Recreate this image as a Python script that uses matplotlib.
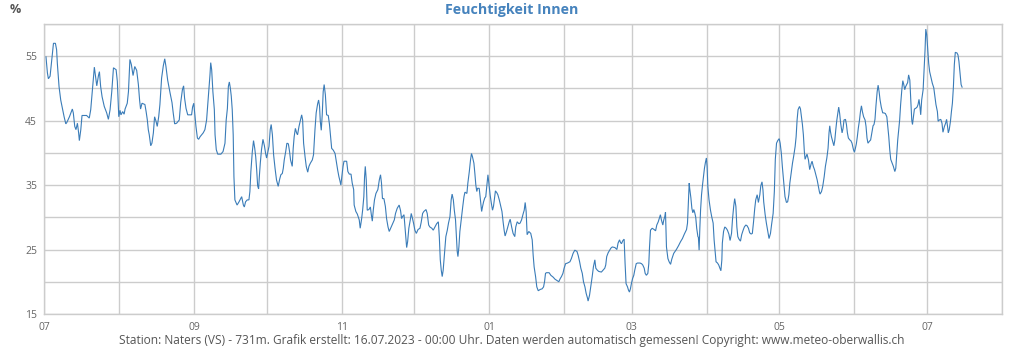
import numpy as np
import matplotlib
matplotlib.use("Agg")
import matplotlib.pyplot as plt
import matplotlib.dates as mdates

plt.rcParams['font.family'] = ['Open Sans', 'DejaVu Sans']

title = "Feuchtigkeit Innen"
unit = "%"
footer = ("Station: Naters (VS) - 731m. Grafik erstellt: 16.07.2023 - 00:00 Uhr. "
          "Daten werden automatisch gemessen! Copyright: www.meteo-oberwallis.ch")

start = np.datetime64("2022-07-01T00:00")
end = np.datetime64("2023-08-01T00:00")

# days since 1 July 2022
days = [
    0.8, 1.4, 1.8, 2.5, 3.2, 3.9, 4.7, 5.2, 5.5, 6.2, 6.9, 7.7, 8.3, 9.0, 9.4, 10.5,
    11.7, 12.1, 12.7, 13.2, 13.8, 14.3, 14.6, 15.2, 15.7, 17.6, 18.7, 19.3, 20.0, 20.8,
    21.2, 21.8, 22.5, 22.9, 23.4, 24.0, 24.9, 25.9, 26.6, 27.3, 28.0, 28.7, 29.8, 30.3,
    30.7, 30.9, 31.4, 31.8, 32.5, 33.1, 33.5, 34.4, 34.9, 35.5, 36.1, 36.8, 37.5, 38.3,
    39.0, 39.5, 39.9, 40.5, 41.7, 42.2, 42.7, 43.1, 43.5, 44.1, 44.6, 45.2, 45.7, 46.3,
    46.8, 47.4, 47.9, 48.6, 49.3, 49.9, 50.4, 51.1, 52.1, 52.9, 53.4, 54.0, 54.8, 55.9,
    56.5, 57.2, 57.7, 58.1, 58.7, 59.4, 61.0, 61.4, 61.9, 62.4, 62.8, 63.4, 63.9,
    64.5, 65.8, 66.5, 67.2, 67.9, 68.6, 68.9, 69.3, 69.8, 70.4, 70.7, 71.2, 71.8, 73.1,
    74.0, 74.8, 75.3, 75.8, 76.2, 76.6, 77.0, 77.4, 77.8, 78.2, 78.5, 78.9, 79.8, 80.6,
    81.7, 82.4, 82.8, 83.3, 84.0, 84.7, 85.1, 85.5, 86.1, 86.6, 87.1, 87.5, 87.9, 88.3,
    88.7, 89.0, 89.4, 89.9, 90.5, 91.1, 91.6, 92.0, 92.4, 93.0, 93.5, 93.9, 94.4, 94.9,
    95.5, 96.1, 96.8, 97.4, 97.9, 98.5, 98.9, 99.3, 99.9, 100.4, 101.0, 101.5, 101.9,
    102.3, 102.6, 103.0, 103.4, 103.9, 104.4, 104.8, 105.4, 105.9, 106.5, 106.9, 107.3,
    107.9, 108.4, 109.0, 109.5, 110.1, 110.9, 111.4, 112.0, 112.5, 113.1, 113.5, 113.9,
    114.2, 114.6, 115.0, 115.4, 115.8, 116.3, 116.8, 117.5, 118.0, 118.5, 118.9, 119.6,
    120.3, 120.8, 121.4, 121.9, 122.3, 122.7, 123.1, 123.6, 124.0, 125.1, 125.6, 126.2,
    126.9, 127.4, 128.0, 128.2,
    128.9, 129.5, 130.3, 130.7, 131.3, 131.7, 132.2, 132.5, 132.8, 133.2, 133.6, 134.3,
    134.9, 135.3, 135.7, 136.1, 136.6, 137.2, 138.0, 138.6, 139.1, 139.5, 139.9, 140.5,
    141.1, 141.6, 142.2, 142.7, 143.3, 144.1, 144.8, 145.3, 146.0, 146.8, 147.4, 147.8,
    148.2, 148.8, 149.2, 149.6, 149.9, 150.3, 150.8, 151.4, 151.8, 152.2, 152.8, 153.3,
    153.9, 154.6, 155.4, 155.9, 156.5, 157.0, 157.9, 158.4, 159.0, 159.5, 160.3, 160.9,
    161.6, 162.3, 163.0, 163.4, 163.8, 164.2, 164.6, 165.0, 165.6, 166.1, 166.7, 167.2,
    167.8, 168.3, 168.7, 169.2, 169.6, 170.1, 170.4, 170.8, 171.1, 171.5, 171.9, 172.6,
    173.1, 173.6, 174.0, 174.8, 175.2, 175.8, 176.3, 176.7, 177.1, 177.7, 178.1, 178.5,
    178.9, 179.2, 179.9, 180.4, 180.9, 181.3, 181.7, 182.2, 182.6, 183.1, 183.5, 184.0,
    184.4, 184.9, 185.4, 185.8, 186.2, 186.6, 187.2, 187.6, 188.2, 188.7, 189.3, 189.8,
    190.2, 190.6, 191.2, 191.7, 192.3,
    192.7, 193.3, 193.9, 194.6, 195.0, 195.6, 196.3, 196.8, 197.4, 198.1, 198.5, 198.9,
    199.3, 199.7, 200.4, 201.2, 201.8, 202.2, 202.6, 203.2, 203.7, 204.3, 205.1, 205.9,
    206.5, 206.9, 207.3, 207.7, 208.8, 209.5, 210.5, 211.2, 212.0, 212.8, 213.4, 213.9,
    214.5, 215.0, 215.6, 216.4, 217.4, 218.0, 218.7, 219.4, 220.3, 220.8, 221.4, 221.9,
    222.5, 223.0, 223.6, 224.1, 224.7, 224.9, 225.5, 226.0, 226.6, 227.1, 227.7, 228.1,
    228.7, 229.3, 230.4, 231.3, 231.8, 232.2, 232.6, 233.2, 233.8, 234.3, 234.9, 236.0,
    236.8, 237.3, 237.9, 238.3, 238.7, 239.3, 239.8, 240.2, 240.6, 241.2, 241.6, 242.0,
    242.4, 242.8, 243.3, 243.8, 244.2, 244.8, 245.3, 246.4, 247.0, 247.5, 248.1, 248.5,
    249.0, 249.6, 250.0, 250.3, 250.7, 251.4, 252.2, 252.8, 253.3, 253.9, 254.3, 254.8,
    255.2, 255.8, 256.2, 256.6,
    256.9, 257.3, 257.9, 258.4, 259.0, 259.5, 260.3, 261.4, 262.3, 263.1, 263.9, 264.7,
    265.6, 266.0, 266.3, 266.7, 266.9, 267.4, 267.8, 268.2, 268.6, 269.0, 269.4, 269.8,
    270.3, 270.5, 270.8, 271.1, 271.4, 271.8, 272.2, 272.6, 273.0, 273.4, 273.8, 274.1,
    274.4, 274.9, 275.5, 276.0, 276.6, 277.0, 277.4, 277.8, 278.4, 278.9, 279.3, 279.8,
    280.2, 280.4, 280.9, 281.4, 282.0, 282.5, 283.1, 283.6, 284.2, 284.6, 285.1, 285.5,
    286.0, 286.4, 286.8, 287.3, 287.9, 288.4, 289.0, 289.5, 290.1, 290.6, 291.2, 291.7,
    292.3, 292.8, 293.3, 293.8, 294.2, 294.8, 295.3, 295.9, 296.3, 296.8, 297.2, 297.5,
    298.1, 298.6, 299.2, 299.7, 300.3, 300.8, 301.4, 301.9, 302.3, 302.8, 303.3, 303.9,
    304.3, 304.8, 305.2, 305.8, 306.3, 306.9, 307.4, 307.9, 308.3, 308.8, 309.4, 309.9,
    310.5, 310.9, 311.3, 311.7, 312.3, 312.7, 313.1, 313.5, 313.9, 314.3, 314.6, 315.0,
    315.4, 316.0, 316.5, 317.1, 317.5, 318.0, 318.5, 319.0, 319.6, 320.1, 320.5,
    320.8, 321.4, 321.9, 322.5, 323.0, 323.6, 324.1, 324.5, 324.8, 325.1, 325.5, 326.0,
    326.5, 326.9, 327.3, 327.7, 328.1, 328.5, 328.9, 329.3, 329.9, 330.3, 330.7, 331.3,
    331.7, 332.1, 332.5, 333.1, 333.5, 334.0, 334.6, 335.0, 335.4, 335.8, 336.2, 336.6,
    337.1, 337.5, 337.9, 338.3, 338.8, 339.4, 339.8, 340.2, 340.6, 341.2, 341.7, 342.3,
    342.7, 343.1, 343.5, 343.9, 344.4, 344.8, 345.2, 345.6, 346.1, 346.7, 347.2, 347.8,
    348.4, 348.8, 349.2, 349.6, 350.0, 350.6, 351.1, 351.7, 352.1, 352.5, 352.9, 353.3,
    353.7, 354.1, 354.6, 355.0, 355.4, 355.8, 356.2, 356.6, 357.0, 357.4, 357.9, 358.3,
    358.7, 359.0, 359.4, 359.8, 360.3, 360.9, 361.3, 361.7, 362.1, 362.4, 362.8, 363.4,
    363.8, 364.2, 364.5, 364.9, 365.3, 365.7, 366.1, 366.7, 367.2, 367.8, 368.2, 368.7,
    369.3, 369.6, 370.1, 370.7, 371.2, 371.6, 372.2, 372.7, 373.1, 373.6, 373.8, 374.2,
    374.7, 375.1, 375.5, 375.9, 376.3, 376.7, 377.4, 377.8, 378.2, 378.7, 379.1, 379.5,
]

humidity = [
    54.9, 52.4, 51.5, 51.9, 54.5, 57.0, 57.0, 56.0, 53.9, 50.3, 48.2, 46.7, 45.6, 44.5, 44.7, 45.6,
    46.8, 46.2, 44.1, 43.6, 44.6, 43.1, 41.9, 43.6, 45.8, 45.8, 45.4, 46.7, 49.8, 53.3,
    52.1, 50.4, 52.0, 52.6, 50.3, 48.7, 47.2, 46.2, 45.2, 46.7, 49.5, 53.2, 52.9, 51.1,
    47.3, 45.6, 46.6, 45.9, 46.4, 46.0, 46.8, 47.7, 49.5, 54.5, 53.7, 52.0, 53.4, 52.8,
    50.6, 48.2, 46.8, 47.7, 47.5, 46.4, 45.1, 43.6, 42.8, 41.1, 41.5, 43.1, 45.6, 44.9,
    44.1, 45.6, 47.5, 51.6, 53.5, 54.6, 53.4, 51.3, 49.3, 47.8, 46.2, 44.5, 44.6, 45.1,
    47.8, 49.8, 50.4, 48.5, 46.9, 45.9, 45.9, 47.1, 47.7, 45.6, 44.1, 42.3, 42.1,
    42.5, 43.1, 43.6, 45.1, 48.5, 52.1, 54.0, 52.9, 49.5, 46.7, 42.8, 40.5, 39.8, 39.8,
    40.2, 41.5, 45.1, 46.9, 50.3, 51.0, 50.1, 48.8, 46.7, 42.8, 36.3, 32.7, 31.9, 32.4,
    33.2, 31.9, 31.6, 32.4, 32.7, 32.7, 34.0, 37.1, 40.2, 41.9, 40.7, 39.4, 37.4, 34.9,
    34.4, 36.3, 38.4, 40.5, 42.1, 41.1, 39.9, 39.2, 39.9, 41.0, 43.6, 44.4, 42.8, 39.7,
    37.6, 35.8, 34.8, 35.9, 36.6, 36.8, 37.6, 38.9, 40.2, 41.5, 41.4, 40.2, 38.9,
    38.3, 37.9, 40.7, 42.5, 43.8, 43.1, 42.8, 44.1, 44.9, 45.9, 45.1, 41.5,
    39.4, 37.9, 37.0, 37.9, 38.4, 38.9, 39.7, 43.6, 46.2, 47.6, 48.2, 47.2,
    44.9, 43.5, 45.9, 49.5, 50.6, 49.0, 45.9, 45.8, 44.4, 42.3, 40.7, 40.4,
    39.9, 38.7, 37.3, 36.3, 35.7, 35.0, 36.3, 37.9, 38.7, 38.7, 37.1, 36.7,
    36.7, 35.3, 34.3, 31.9,
    30.9, 30.5, 29.6, 28.3, 29.8, 31.1, 33.2, 36.3, 37.9, 35.8, 31.1, 31.2,
    31.6, 30.4, 29.4, 31.1, 32.7, 33.7, 34.3, 35.8, 36.6, 35.3, 32.9, 32.9,
    31.7, 29.8, 28.5, 27.8, 28.3, 29.0, 29.6, 30.6, 31.4, 31.9, 31.0, 29.8,
    30.1, 30.4, 28.5, 26.5, 25.3, 26.2, 28.3, 29.6, 30.6, 30.0, 29.0, 28.0,
    27.5, 28.1, 28.3, 29.2, 30.6, 30.9, 31.2, 30.6, 28.8, 28.5, 28.3, 28.0,
    28.5, 29.0, 29.3, 27.0, 23.4, 21.8, 20.8, 21.8, 24.7, 27.0, 28.0, 29.1,
    30.1, 32.7, 33.6, 32.7, 31.1, 29.6, 27.5, 24.7, 23.9, 25.4, 27.8, 30.1,
    31.7, 33.2, 33.9, 33.7, 35.3, 37.1, 38.9, 39.9, 39.4, 38.4, 36.8, 35.0,
    34.0, 34.5, 34.5, 32.7, 30.9, 31.7, 32.4, 33.0, 33.2, 35.0, 36.6, 34.8,
    33.5, 32.2, 31.1, 31.7, 32.9, 34.1, 33.8, 33.5, 32.7, 31.9, 30.9, 29.2,
    28.0, 27.1, 27.8, 28.5, 29.3,
    29.7, 28.5, 27.5, 27.0, 28.5, 29.3, 29.0, 29.1, 29.6, 30.6, 31.1, 32.3,
    30.9, 27.3, 27.8, 27.5, 26.5, 24.1, 22.3, 20.8, 19.2, 18.6, 18.8, 18.9,
    19.2, 20.0, 21.3, 21.4, 21.4, 21.0, 20.7, 20.4, 20.2, 20.0, 20.5, 20.8,
    21.3, 22.1, 22.8, 22.9, 23.1, 23.6, 24.4, 24.9, 24.7, 24.1, 23.1, 22.1,
    21.3, 20.0, 19.2, 18.2, 17.4, 17.0, 17.9, 19.2, 20.8, 22.3, 23.4, 22.1,
    21.8, 21.6, 21.5, 21.9, 22.1, 22.6, 23.9, 24.5, 24.9, 25.2, 25.4, 25.3,
    25.0, 26.0, 26.5, 26.1, 25.9, 26.4, 26.6, 22.8, 19.7, 19.2, 18.7, 18.4,
    18.9, 19.7, 20.5, 21.0, 21.8, 22.8, 22.9, 22.9, 22.8, 22.6, 22.1, 21.3,
    21.0, 21.3, 22.8, 25.4, 28.0, 28.3, 28.1, 27.9, 28.8, 29.3, 29.8, 30.4,
    29.6, 28.8, 29.6, 30.1,
    30.8, 25.4, 23.6, 23.1, 22.7, 23.5, 24.4, 25.0, 25.6, 26.2, 26.7, 27.4,
    28.1, 29.1, 31.9, 35.3, 34.5, 33.0, 31.4, 30.7, 31.2, 30.7, 30.0, 28.3,
    27.0, 26.9, 24.9, 28.3, 31.1, 33.5, 35.0, 36.3, 37.6, 38.5, 39.2, 37.9,
    34.8, 32.7, 31.1, 30.1, 29.1, 26.5, 24.7, 23.1, 22.9, 22.6, 22.2, 21.7,
    23.4, 26.0, 27.8, 28.5, 28.3, 28.0, 27.4, 26.4, 27.5, 29.7, 31.7, 32.9,
    31.7, 28.5, 27.0, 26.6, 26.3, 27.3, 28.0, 28.5, 28.8, 28.7, 28.3, 27.6,
    27.4, 27.5, 29.3, 31.4, 32.7, 33.5, 32.3, 33.5, 34.9, 35.5, 34.2, 32.4,
    30.4, 29.1, 27.8, 26.7, 27.5, 29.0, 30.6, 34.0, 39.0, 41.5, 41.9, 42.2,
    41.5, 39.9, 37.9, 35.3, 33.2, 32.3, 32.4, 33.5, 35.3, 36.7, 38.4, 39.5,
    41.0, 42.5, 45.1, 46.7, 47.2, 46.8, 45.6, 44.4, 42.8, 40.2, 39.0, 39.4,
    39.8, 38.9, 37.4, 38.3, 38.7, 37.9, 37.4, 36.7, 35.8, 34.8, 34.0,
    33.6, 34.0, 34.8, 36.3, 37.9, 39.2, 40.7, 43.1, 44.2, 43.3, 42.5, 41.8,
    41.1, 42.0, 43.6, 45.0, 46.1, 47.1, 46.1, 44.6, 43.1, 43.8, 45.1, 45.2,
    44.4, 43.1, 42.3, 42.0, 41.9, 41.5, 40.5, 40.1, 40.7, 41.4, 42.5, 43.8,
    45.1, 46.4, 47.3, 46.4, 45.6, 45.1, 44.1, 42.3, 41.5, 41.8, 42.0, 43.3,
    44.2, 44.4, 45.2, 47.3, 49.5, 50.5, 49.5, 48.2, 47.1, 46.2, 46.2, 46.1,
    45.6, 44.1, 42.5, 40.5, 39.0, 38.4, 37.9, 37.1, 37.6, 39.7, 42.0, 43.6,
    45.1, 47.5, 49.8, 51.2, 50.6, 49.8, 50.3, 50.6, 50.9, 52.1, 51.3, 48.2,
    45.1, 44.4, 45.6, 46.8, 46.9, 47.1, 47.5, 48.3, 47.1, 45.9, 48.2, 49.8,
    52.9, 56.0, 59.2, 58.3, 56.0, 53.9, 52.6, 51.6, 50.8, 50.1, 48.9, 47.5,
    46.4, 44.9, 45.1, 45.2, 44.6, 43.2, 44.1, 44.6, 45.2, 43.8, 43.1, 43.6,
    44.9, 46.4, 47.7, 50.1, 53.7, 55.6, 55.5, 55.2, 54.2, 52.1, 50.6, 50.2,
]

y_labels = [15, 25, 35, 45, 55]
y_grid = [20, 30, 40, 50, 60]

times = start + (np.array(days) * 86400).astype("timedelta64[s]")

fig = plt.figure(figsize=(10.24, 3.5), dpi=100)
ax = fig.add_axes([0.043, 0.103, 0.9355, 0.8285])

ax.plot(times.astype("datetime64[s]").astype(object), humidity,
        color="#3a7cb8", lw=0.8, solid_joinstyle="miter")

ax.set_xlim(start.astype(object), end.astype(object))
ax.set_ylim(15, 60)

ax.xaxis.set_major_locator(mdates.MonthLocator(bymonth=[1, 3, 5, 7, 9, 11]))
ax.xaxis.set_major_formatter(mdates.DateFormatter("%m"))
ax.xaxis.set_minor_locator(mdates.MonthLocator())
ax.set_yticks(y_labels)
ax.set_yticks(y_grid, minor=True)

ax.grid(True, which="both", color="#cccccc", lw=1)
ax.set_axisbelow(True)
ax.tick_params(which="both", length=0)
ax.tick_params(axis="x", pad=6, labelsize=7.5, labelcolor="#666666")
ax.tick_params(axis="y", pad=5, labelsize=7.5, labelcolor="#666666")
for s in ax.spines.values():
    s.set_color("#cccccc")
    s.set_linewidth(1)

fig.text(0.5, 0.972, title, ha="center", va="center", color="#4683bd",
         fontsize=10.3, fontweight="bold")
fig.text(0.0098, 0.972, unit, ha="left", va="center", color="#555555",
         fontsize=9, fontweight="bold")
fig.text(0.5, 0.028, footer, ha="center", va="center", color="#555555",
         fontsize=8.6)

fig.savefig("out.png", dpi=100)
